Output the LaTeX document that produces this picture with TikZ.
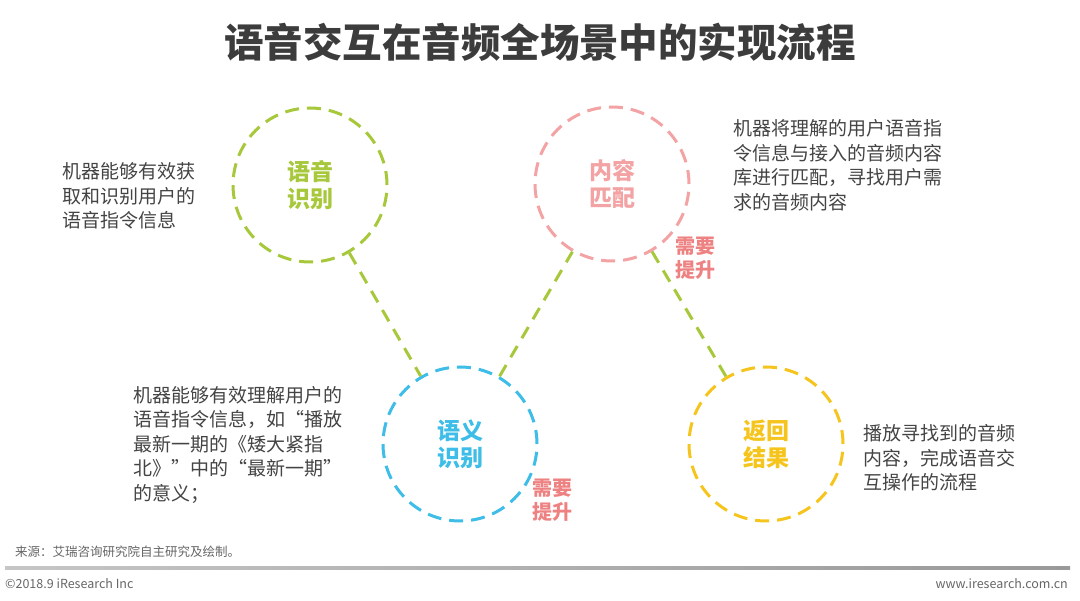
\documentclass[tikz,border=0pt]{standalone}
\usepackage{fontspec}
\setmainfont{Noto Sans CJK SC}
\newfontfamily\cjk{Noto Sans CJK SC}
\definecolor{cgreen}{HTML}{A8C83C}
\definecolor{cpink}{HTML}{F3A3A3}
\definecolor{cblue}{HTML}{3DBDE7}
\definecolor{cyellow}{HTML}{F5C51E}
\definecolor{cred}{HTML}{EE8282}
\definecolor{ctext}{HTML}{444444}
\definecolor{ctitle}{HTML}{3C3C3C}
\definecolor{cfoot}{HTML}{666666}
\tikzset{
  stage/.style={circle, minimum size=154pt, inner sep=0pt, line width=3pt,
    dash pattern=on 14pt off 8pt, align=center,
    font=\cjk\bfseries\fontsize{23}{27}\selectfont},
  link/.style={draw=cgreen, line width=3pt, dash pattern=on 13pt off 9pt},
  desc/.style={anchor=west, align=left, inner sep=0pt, text=ctext,
    font=\cjk\fontsize{19}{24.5}\selectfont},
  need/.style={align=center, inner sep=0pt, text=cred,
    font=\cjk\bfseries\fontsize{20}{24}\selectfont},
  foot/.style={inner sep=0pt, text=cfoot, font=\cjk\fontsize{12.5}{14}\selectfont}
}
\begin{document}
\begin{tikzpicture}[x=1pt,y=-1pt]
\useasboundingbox (0,0) rectangle (1080,601);
\fill[white] (0,0) rectangle (1080,601);
\node[inner sep=0pt, text=ctitle, font=\cjk\bfseries\fontsize{39.5}{44}\selectfont] (title) at (540,42) {语音交互在音频全场景中的实现流程};

\node[stage, draw=cgreen, text=cgreen] (g) at (310,185) {语音\\识别};
\node[stage, draw=cpink, text=cpink] (p) at (612,184) {内容\\匹配};
\node[stage, draw=cblue, text=cblue] (b) at (460,444) {语义\\识别};
\node[stage, draw=cyellow, text=cyellow] (y) at (766,444) {返回\\结果};

\draw[link] (g) -- (b);
\draw[link] (b) -- (p);
\draw[link] (p) -- (y);

\node[desc] (d1) at (62,196) {机器能够有效获\\取和识别用户的\\语音指令信息};
\node[desc] (d2) at (733,165) {机器将理解的用户语音指\\令信息与接入的音频内容\\库进行匹配，寻找用户需\\求的音频内容};
\node[desc] (d3) at (133,445) {机器能够有效理解用户的\\语音指令信息，如“播放\\最新一期的《矮大紧指\\北》”中的“最新一期”\\的意义；};
\node[desc] (d4) at (863,458) {播放寻找到的音频\\内容，完成语音交\\互操作的流程};

\node[need] (n1) at (695,258) {需要\\提升};
\node[need] (n2) at (552,500) {需要\\提升};

\node[foot, anchor=west] (src) at (15,552) {来源：艾瑞咨询研究院自主研究及绘制。};
\coordinate (l1) at (5,568);
\coordinate (l2) at (1070,568);
\shade[left color=gray!45, right color=gray!80] (5,567) rectangle (1070,569.5);
\node[foot, anchor=west] (cp) at (5,584) {©2018.9 iResearch Inc};
\node[foot, anchor=east] (web) at (1068,584) {www.iresearch.com.cn};
\end{tikzpicture}
\end{document}
